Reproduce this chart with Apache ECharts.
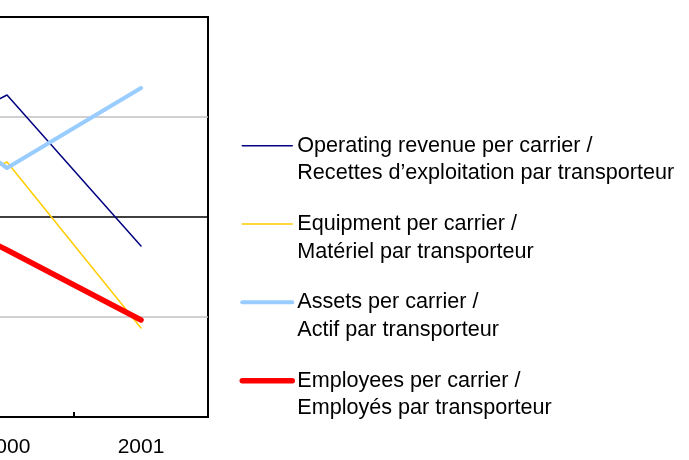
<!DOCTYPE html>
<html>
<head>
<meta charset="utf-8">
<script src="https://cdn.jsdelivr.net/npm/echarts@6/dist/echarts.min.js"></script>
<style>
    html, body { margin: 0; padding: 0; background: #fff; }
    #chart { width: 689px; height: 460px; }
</style>
</head>
<body>
<div id="chart"></div>
<script>
// datos (indice)
const years = ["1999", "2000", "2001"];
const operatingRevenue = [105.4, 112.2, 97.1];
const equipment = [99.3, 105.5, 88.9];
const assets = [114.5, 104.9, 112.9];
const employees = [103.4, 96.7, 89.7];

const seriesNames = [
    "Operating revenue per carrier /\nRecettes d\u2019exploitation par transporteur",
    "Equipment per carrier /\nMat\u00e9riel par transporteur",
    "Assets per carrier /\nActif par transporteur",
    "Employees per carrier /\nEmploy\u00e9s par transporteur"
];
const seriesValues = [operatingRevenue, equipment, assets, employees];
const palette = ["#000080", "#FFCC00", "#99CCFF", "#FF0000"];
const widths = [1.5, 1.5, 4, 5.5];

const yTicks = [80, 90, 100, 110, 120];

window.renderChart = function () {
    const div = document.getElementById("chart");
    if (!div) return;
    const chart = echarts.init(div);
    const font = "'Liberation Sans', Arial, sans-serif";

    // leading blank line keeps the legend icon level with the first text line
    const legendName = n => "\n" + n;

    const option = {
        animation: false,
        textStyle: { fontFamily: font },
        grid: {
            left: -194, right: 481, top: 17, bottom: 43,
            show: true, borderColor: "#000", borderWidth: 2,
            containLabel: false, outerBoundsMode: "none"
        },
        legend: {
            orient: "vertical",
            left: 239.5, top: 104.5,
            padding: 0,
            itemWidth: 50, itemHeight: 8,
            itemGap: -4.2,
            textStyle: { fontFamily: font, fontSize: 21.6, lineHeight: 27.5, color: "#000" },
            data: seriesNames.map((n, i) => ({
                name: legendName(n),
                itemStyle: { opacity: 0 },
                lineStyle: { width: widths[i], color: palette[i], cap: "round" }
            }))
        },
        xAxis: {
            type: "category",
            data: years,
            boundaryGap: true,
            axisLine: { lineStyle: { color: "#000", width: 2 } },
            axisTick: { show: true, inside: true, length: 5, interval: 0, lineStyle: { color: "#000", width: 2 } },
            axisLabel: { color: "#000", fontSize: 21, fontFamily: font, margin: 20 }
        },
        yAxis: {
            type: "value",
            min: yTicks[0], max: yTicks[yTicks.length - 1], interval: 10,
            axisLine: { show: true, lineStyle: { color: "#000", width: 2 } },
            axisTick: { show: false },
            axisLabel: { color: "#000", fontSize: 21, fontFamily: font },
            splitLine: { lineStyle: { color: ["#000", "#c0c0c0", "#000", "#c0c0c0", "#000"], width: 1.5 } }
        },
        series: seriesNames.map((n, i) => ({
            name: legendName(n),
            type: "line",
            data: seriesValues[i],
            symbol: "none",
            color: palette[i],
            lineStyle: { color: palette[i], width: widths[i], cap: "round", join: "round" }
        }))
    };

    chart.setOption(option);
};

window.renderChart();
</script>
</body>
</html>
